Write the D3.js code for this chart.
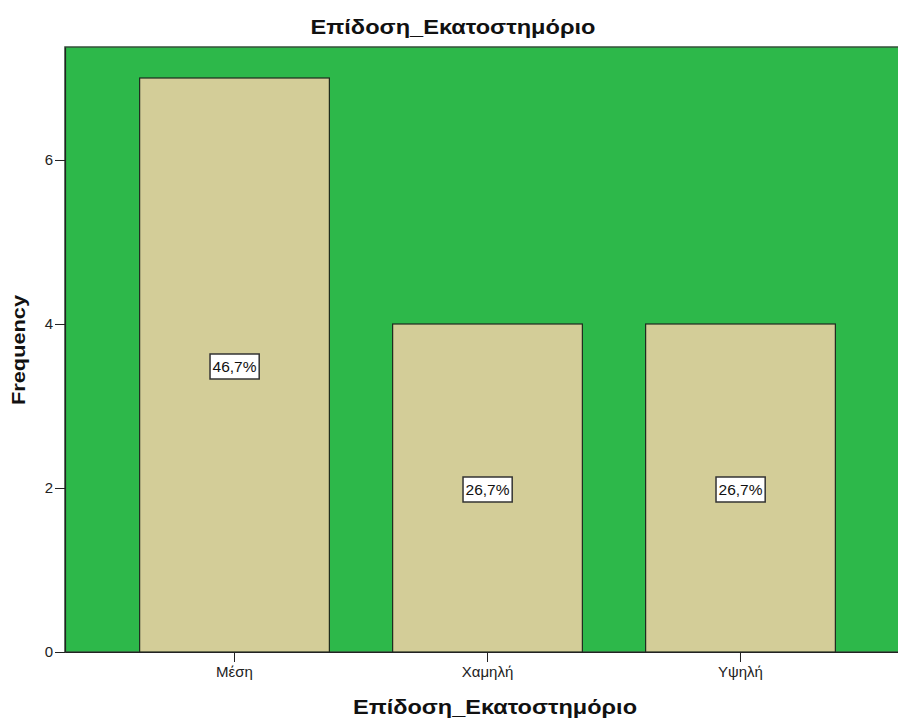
<!DOCTYPE html>
<html>
<head>
<meta charset="utf-8">
<script src="https://cdn.jsdelivr.net/npm/d3@7"></script>
<style>
  html, body { margin: 0; padding: 0; background: #fff; }
  svg { display: block; font-family: "Liberation Sans", Arial, sans-serif; }
</style>
</head>
<body>
<svg id="chart" width="898" height="720"></svg>
<script>
// Frequency of each performance-percentile group
const categories = ["Μέση", "Χαμηλή", "Υψηλή"];
const frequencies = [7, 4, 4];
const percentLabels = ["46,7%", "26,7%", "26,7%"];
const yTicks = [0, 2, 4, 6];
const chartTitle = "Επίδοση_Εκατοστημόριο";
const xTitle = "Επίδοση_Εκατοστημόριο";
const yTitle = "Frequency";

const svg = d3.select("#chart");
const plot = { left: 65, top: 47, right: 910, bottom: 652 };

const x = d3.scaleBand()
  .domain(categories)
  .range([plot.left, plot.right])
  .paddingInner(0.25)
  .paddingOuter(0.295);

const y = d3.scaleLinear()
  .domain([0, 7.378])
  .range([plot.bottom, plot.top]);

// plot background
svg.append("rect")
  .attr("x", plot.left).attr("y", plot.top)
  .attr("width", plot.right - plot.left).attr("height", plot.bottom - plot.top)
  .attr("fill", "#2db84a")
  .attr("stroke", "#34503a").attr("stroke-width", 1.5);

// bars
svg.append("g").selectAll("rect")
  .data(categories)
  .join("rect")
  .attr("x", d => x(d))
  .attr("y", (d, i) => y(frequencies[i]))
  .attr("width", x.bandwidth())
  .attr("height", (d, i) => y(0) - y(frequencies[i]))
  .attr("fill", "#d3cd98")
  .attr("stroke", "#1e2a1e").attr("stroke-width", 1.2);

// percentage labels centred in each bar
const labels = svg.append("g").selectAll("g")
  .data(categories)
  .join("g")
  .attr("transform", (d, i) => `translate(${x(d) + x.bandwidth() / 2},${y(frequencies[i] / 2) + 1.5})`);

labels.append("text")
  .attr("text-anchor", "middle")
  .attr("dy", "0.36em")
  .attr("font-size", 15.5)
  .attr("fill", "#111")
  .text((d, i) => percentLabels[i]);

labels.each(function () {
  const g = d3.select(this);
  const bb = g.select("text").node().getBBox();
  g.insert("rect", "text")
    .attr("x", bb.x - 2.5).attr("y", -12.5)
    .attr("width", bb.width + 5).attr("height", 25)
    .attr("fill", "#fff")
    .attr("stroke", "#333").attr("stroke-width", 1.5);
});

// axes
const xAxis = svg.append("g")
  .attr("transform", `translate(0,${plot.bottom})`)
  .call(d3.axisBottom(x).tickSize(10).tickSizeOuter(0).tickPadding(4));
xAxis.select(".domain").attr("stroke", "#222").attr("stroke-width", 1.2);
xAxis.selectAll(".tick line").attr("stroke", "#222");
xAxis.selectAll(".tick text").attr("font-size", 15).attr("fill", "#222")
  .attr("font-family", "Liberation Sans, Arial, sans-serif");

const yAxis = svg.append("g")
  .attr("transform", `translate(${plot.left},0)`)
  .call(d3.axisLeft(y).tickValues(yTicks).tickSize(10).tickSizeOuter(0).tickPadding(2).tickFormat(d3.format("d")));
yAxis.select(".domain").attr("stroke", "#222").attr("stroke-width", 1.2);
yAxis.selectAll(".tick line").attr("stroke", "#222");
yAxis.selectAll(".tick text").attr("font-size", 15).attr("fill", "#222")
  .attr("font-family", "Liberation Sans, Arial, sans-serif");

// titles
svg.append("text")
  .attr("x", 453).attr("y", 34)
  .attr("text-anchor", "middle")
  .attr("font-size", 21).attr("font-weight", "bold").attr("fill", "#111")
  .attr("textLength", 285).attr("lengthAdjust", "spacingAndGlyphs")
  .text(chartTitle);

svg.append("text")
  .attr("x", 495).attr("y", 714)
  .attr("text-anchor", "middle")
  .attr("font-size", 21).attr("font-weight", "bold").attr("fill", "#111")
  .attr("textLength", 284).attr("lengthAdjust", "spacingAndGlyphs")
  .text(xTitle);

svg.append("text")
  .attr("transform", "translate(25,350) rotate(-90)")
  .attr("text-anchor", "middle")
  .attr("font-size", 19).attr("font-weight", "bold").attr("fill", "#111")
  .attr("textLength", 110).attr("lengthAdjust", "spacingAndGlyphs")
  .text(yTitle);
</script>
</body>
</html>
